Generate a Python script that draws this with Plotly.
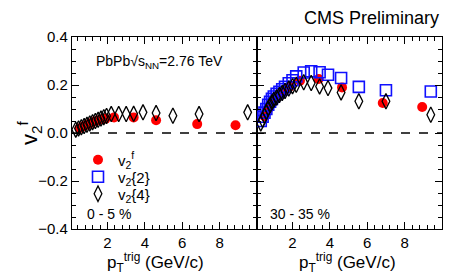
import plotly.graph_objects as go

# page body has an 8px default margin; the figure is sized to fill the rest of the window
OFF = 8
W, H = 457 - OFF, 280 - OFF

# ---------------- data ----------------
# 0 - 5 % centrality
pt_f_c0 = [0.5, 0.7, 0.9, 1.1, 1.3, 1.5, 1.7, 1.9, 2.35, 3.4, 4.6, 6.8, 8.85]
v2f_c0 = [0.020, 0.027, 0.034, 0.041, 0.048, 0.053, 0.057, 0.060, 0.065, 0.065, 0.053, 0.037, 0.032]

pt_4_c0 = [0.3, 0.45, 0.6, 0.75, 0.9, 1.05, 1.2, 1.35, 1.5, 1.65, 1.8, 1.95,
           2.2, 2.6, 3.0, 3.4, 3.9, 4.6, 5.5, 6.9, 9.5]
v24_c0 = [0.014, 0.019, 0.024, 0.029, 0.034, 0.040, 0.045, 0.050, 0.055, 0.060, 0.066, 0.071,
          0.079, 0.079, 0.079, 0.080, 0.086, 0.083, 0.072, 0.079, 0.086]

# 30 - 35 % centrality
pt_f_c1 = [0.5, 0.7, 0.9, 1.1, 1.3, 1.5, 1.7, 1.9, 2.4, 3.4, 4.65, 6.83, 8.94]
v2f_c1 = [0.070, 0.100, 0.125, 0.145, 0.160, 0.172, 0.185, 0.195, 0.218, 0.225, 0.190, 0.125, 0.108]

pt_2_c1 = [0.3, 0.4, 0.5, 0.6, 0.7, 0.8, 0.9, 1.0, 1.15, 1.3, 1.45, 1.6, 1.8, 2.0,
           2.2, 2.6, 3.0, 3.45, 3.9, 4.6, 5.55, 7.0, 9.4]
v22_c1 = [0.050, 0.068, 0.085, 0.100, 0.118, 0.130, 0.142, 0.152, 0.163, 0.172, 0.182, 0.192,
          0.207, 0.220, 0.236, 0.252, 0.257, 0.253, 0.243, 0.229, 0.192, 0.178, 0.173]

pt_4_c1 = pt_2_c1
v24_c1 = [0.040, 0.055, 0.072, 0.088, 0.103, 0.117, 0.128, 0.138, 0.148, 0.158, 0.167, 0.175,
          0.185, 0.195, 0.201, 0.211, 0.208, 0.194, 0.187, 0.169, 0.132, 0.132, 0.076]

y_ticks = [-0.4, -0.2, 0.0, 0.2, 0.4]
x_ticks = [2, 4, 6, 8]

FONT = "Liberation Sans, Arial, sans-serif"


def px(x):
    return (x - OFF) / W


def py(y):
    return 1 - (y - OFF) / H


# ---------------- figure ----------------
fig = go.Figure()

red = dict(symbol="circle", size=10, color="#ff0000", line=dict(width=0))
blue = dict(symbol="square-open", size=11, color="#1010ff", line=dict(width=1.6))
blk = dict(symbol="diamond-tall-open", size=11, color="black", line=dict(width=1.3))

fig.add_trace(go.Scatter(x=pt_f_c0, y=v2f_c0, mode="markers", marker=red,
                         name="v<sub>2</sub><sup>f</sup>", legend="legend",
                         xaxis="x", yaxis="y"))
fig.add_trace(go.Scatter(x=pt_4_c0, y=v24_c0, mode="markers", marker=blk,
                         showlegend=False, xaxis="x", yaxis="y"))

fig.add_trace(go.Scatter(x=pt_f_c1, y=v2f_c1, mode="markers", marker=red,
                         showlegend=False, xaxis="x2", yaxis="y2"))
fig.add_trace(go.Scatter(x=pt_2_c1, y=v22_c1, mode="markers", marker=blue,
                         name="v<sub>2</sub>{2}", legend="legend2",
                         xaxis="x2", yaxis="y2"))
fig.add_trace(go.Scatter(x=pt_4_c1, y=v24_c1, mode="markers", marker=blk,
                         name="v<sub>2</sub>{4}", legend="legend3",
                         xaxis="x2", yaxis="y2"))

x0p, x1p, x2p = px(72), px(257), px(442)
ytop, ybot = py(37), py(229)

axis_common = dict(
    showline=True, linecolor="black", linewidth=1.4, mirror="ticks",
    ticks="inside", ticklen=7, tickwidth=1.3, tickcolor="black",
    showgrid=False, zeroline=False, automargin=False,
    tickfont=dict(family=FONT, size=15, color="black"),
)

xaxis_common = dict(axis_common, range=[0.1, 10], tickvals=x_ticks,
                    minor=dict(dtick=0.4, tick0=0, ticks="inside", ticklen=3.5,
                               tickwidth=1, tickcolor="black"))
yaxis_common = dict(axis_common, range=[-0.4, 0.4], tickvals=y_ticks,
                    minor=dict(dtick=0.05, tick0=0, ticks="inside", ticklen=3.5,
                               tickwidth=1, tickcolor="black"))


def leg(y):
    return dict(x=px(78), y=py(y), xanchor="left", yanchor="middle",
                bgcolor="rgba(0,0,0,0)", font=dict(family=FONT, size=15),
                tracegroupgap=0, itemwidth=30)


fig.update_layout(
    width=W, height=H,
    margin=dict(l=0, r=0, t=0, b=0, autoexpand=False),
    paper_bgcolor="white", plot_bgcolor="white",
    font=dict(family=FONT, color="black"),
    xaxis=dict(xaxis_common, domain=[x0p, x1p], anchor="y"),
    yaxis=dict(yaxis_common, domain=[ybot, ytop], anchor="x", tickformat=".1f"),
    xaxis2=dict(xaxis_common, domain=[x1p, x2p], anchor="y2"),
    yaxis2=dict(yaxis_common, domain=[ybot, ytop], anchor="x2", showticklabels=False),
    legend=leg(160),
    legend2=leg(177),
    legend3=leg(194),
    showlegend=True,
)

# dashed zero lines
for xr, yr in (("x", "y"), ("x2", "y2")):
    fig.add_shape(type="line", xref=xr, yref=yr, x0=0.1, x1=10, y0=0, y1=0,
                  line=dict(color="black", width=1.3, dash="dash"))


def ann(text, x, y, size, xanchor="left", **kw):
    fig.add_annotation(text=text, xref="paper", yref="paper", x=px(x), y=py(y),
                       xanchor=xanchor, yanchor="middle", showarrow=False,
                       font=dict(family=FONT, size=size, color="black"), **kw)


ann("CMS Preliminary", 441, 18, 18, xanchor="right")
ann("PbPb√s<sub>NN</sub>=2.76 TeV", 94, 62, 14)
ann("0 - 5 %", 85, 214, 14)
ann("30 - 35 %", 268, 214, 14)
ann("p<sub>T</sub><sup>trig</sup> (GeV/c)", 155, 262, 17, xanchor="center")
ann("p<sub>T</sub><sup>trig</sup> (GeV/c)", 347, 262, 17, xanchor="center")
ann("v<sub>2</sub><sup>f</sup>", 30, 133, 22, xanchor="center", textangle=-90)

fig.write_html("out.html")
